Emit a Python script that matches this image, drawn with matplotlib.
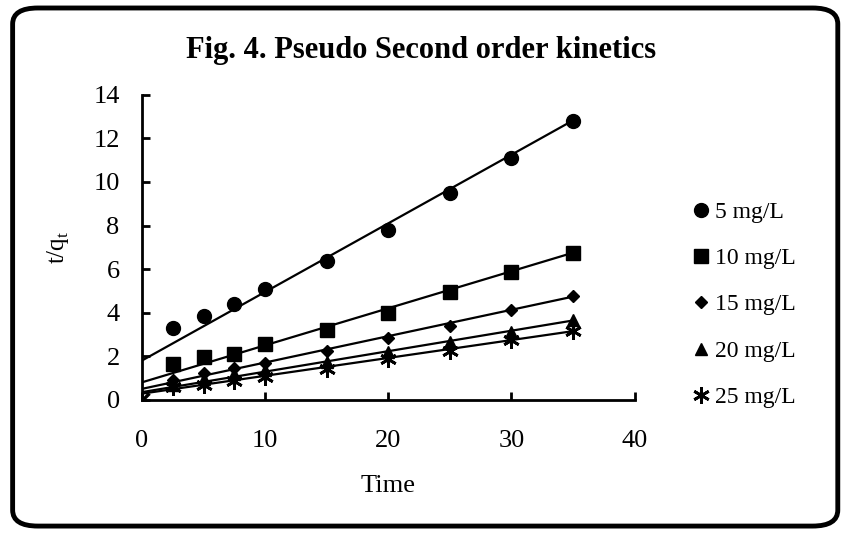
import numpy as np
import matplotlib
matplotlib.use('Agg')
import matplotlib.pyplot as plt
from matplotlib.patches import FancyBboxPatch

plt.rcParams['font.family'] = ['Liberation Serif', 'DejaVu Serif']

# data
time = [2.5, 5, 7.5, 10, 15, 20, 25, 30, 35]
c5 = [3.3, 3.85, 4.4, 5.1, 6.35, 7.8, 9.5, 11.1, 12.8]
c10 = [1.65, 1.95, 2.1, 2.55, 3.2, 4.0, 4.95, 5.85, 6.75]
c15 = [0.9, 1.25, 1.45, 1.7, 2.25, 2.85, 3.4, 4.1, 4.75]
c20 = [0.7, 0.95, 1.2, 1.35, 1.75, 2.2, 2.65, 3.1, 3.65]
c25 = [0.6, 0.7, 0.85, 1.05, 1.4, 1.85, 2.25, 2.75, 3.15]
labels = ['5 mg/L', '10 mg/L', '15 mg/L', '20 mg/L', '25 mg/L']
# trend lines (intercept, slope)
intercepts = [1.8, 0.8, 0.5, 0.35, 0.28]
slopes = [0.315, 0.17, 0.121, 0.094, 0.082]

series = [c5, c10, c15, c20, c25]
markers = ['o', 's', 'D', '^', (6, 2, 0)]
msizes = [10, 10, 6, 8, 12]

fig = plt.figure(figsize=(8.42, 5.33), dpi=100)
fig.patch.set_facecolor('white')

# rounded photo frame
frame = FancyBboxPatch((0.015, 0.013), 0.98, 0.972, boxstyle='round,pad=0,rounding_size=0.03',
                       transform=fig.transFigure, facecolor='white', edgecolor='black',
                       linewidth=3.5, zorder=-1)
fig.patches.append(frame)

ax = fig.add_axes([0.1686, 0.25, 0.585, 0.572])
ax.set_facecolor('none')

xfit = np.array([0, 35])
for ys, m, ms, lab, b, k in zip(series, markers, msizes, labels, intercepts, slopes):
    ax.plot(xfit, b + k * xfit, color='black', linewidth=1.6)
    ax.plot(time, ys, linestyle='none', marker=m, markersize=ms, color='black',
            markeredgewidth=2 if m == (6, 2, 0) else 1, label=lab)
ax.plot([0], [0], linestyle='none', marker='x', markersize=10, markeredgewidth=2.5, color='black')

ax.set_xlim(0, 40)
ax.set_ylim(0, 14)
ax.set_xticks([0, 10, 20, 30, 40])
ax.set_yticks([0, 2, 4, 6, 8, 10, 12, 14])
ax.spines['top'].set_visible(False)
ax.spines['right'].set_visible(False)
ax.spines['left'].set_linewidth(2)
ax.spines['bottom'].set_linewidth(2)
ax.tick_params(direction='in', length=6, width=2, labelsize=19)
ax.tick_params(axis='x', pad=22)
ax.tick_params(axis='y', pad=16)
ax.set_xlabel('Time', fontsize=19, labelpad=16)
ax.set_ylabel(r't/q$_\mathregular{t}$', fontsize=18, labelpad=16)

fig.text(0.5, 0.905, 'Fig. 4. Pseudo Second order kinetics', ha='center', va='center',
         fontsize=22, fontweight='bold')

ax.legend(loc='upper left', bbox_to_anchor=(0.81, 0.64), bbox_transform=fig.transFigure,
          frameon=False, fontsize=17, handlelength=0.8, handletextpad=0.2,
          labelspacing=1.05, borderaxespad=0)

fig.savefig('out.png', dpi=100)
